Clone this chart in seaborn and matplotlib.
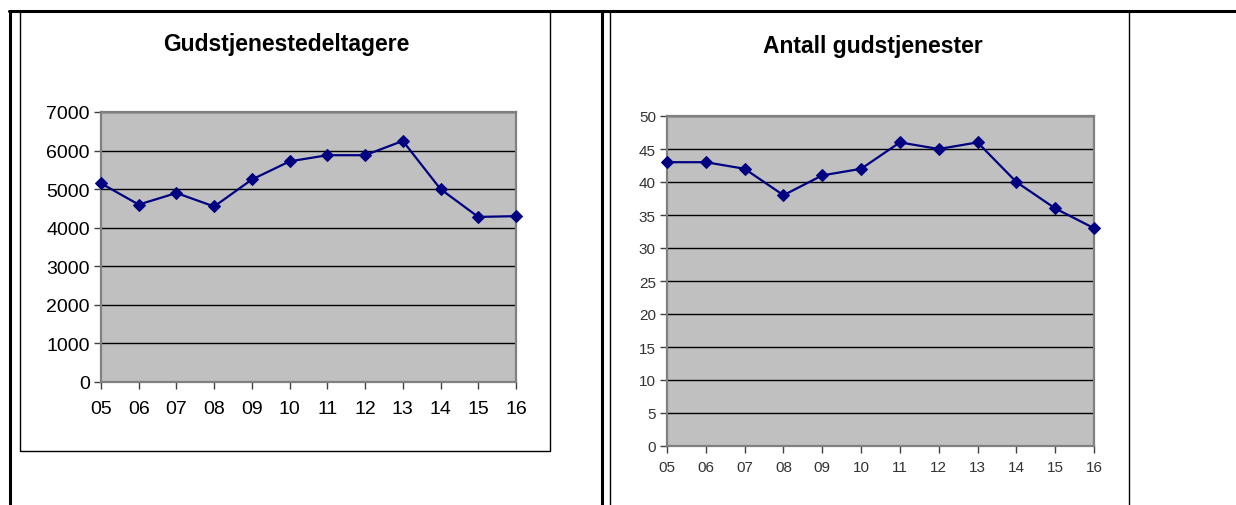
import pandas as pd
import numpy as np
import matplotlib
matplotlib.use("Agg")
import matplotlib.pyplot as plt
from matplotlib.lines import Line2D
from matplotlib.patches import Rectangle
import seaborn as sns

# data
years = ["05", "06", "07", "08", "09", "10", "11", "12", "13", "14", "15", "16"]
deltagere = [5150, 4600, 4900, 4550, 5250, 5720, 5880, 5880, 6250, 5000, 4280, 4300]
gudstjenester = [43, 43, 42, 38, 41, 42, 46, 45, 46, 40, 36, 33]

sns.set_theme(style="white")
plt.rcParams['font.family'] = ['Liberation Sans', 'DejaVu Sans']

W, H = 1236, 506
fig = plt.figure(figsize=(W / 100, H / 100), dpi=100)
fig.patch.set_facecolor("white")


def fx(x):
    return x / W


def fy(y):
    return 1 - y / H


def ax_at(x0, y0, x1, y1):
    return fig.add_axes([fx(x0), fy(y1), fx(x1 - x0), (y1 - y0) / H])


def excel_style(ax, ymax, step, fsize, color, xpad):
    ax.set_facecolor("#C0C0C0")
    ax.set_xlim(0, len(years) - 1)
    ax.set_ylim(0, ymax)
    ax.set_yticks(np.arange(0, ymax + 1, step))
    ax.set_xticks(range(len(years)))
    ax.set_xticklabels(years)
    ax.yaxis.grid(True, color="black", linewidth=1.0)
    ax.xaxis.grid(False)
    ax.set_axisbelow(True)
    for s in ax.spines.values():
        s.set_visible(True)
        s.set_color("#808080")
        s.set_linewidth(1.6)
    ax.tick_params(axis="both", direction="out", length=5, width=1,
                   color="#404040", labelsize=fsize, labelcolor=color,
                   left=True, bottom=True)
    ax.tick_params(axis="x", pad=xpad)
    ax.tick_params(axis="y", pad=3)
    ax.set_xlabel("")
    ax.set_ylabel("")
    # markers sit on the plot edge, keep them whole and above the spines
    for ln in ax.lines:
        ln.set_clip_on(False)
        ln.set_zorder(5)


df1 = pd.DataFrame({"year": years, "value": deltagere})
df2 = pd.DataFrame({"year": years, "value": gudstjenester})

# left chart
ax1 = ax_at(101, 113, 516, 383)
sns.lineplot(data=df1, x="year", y="value", sort=False, ax=ax1, color="#000080",
             linewidth=1.6, marker="D", markersize=6.5, markeredgecolor="#000080")
excel_style(ax1, 7000, 1000, 14, "black", 8)
fig.text(fx(286), fy(45), "Gudstjenestedeltagere", ha="center", va="center",
         fontsize=16.5, fontweight="bold", color="black")

# right chart
ax2 = ax_at(667, 117, 1094, 447)
sns.lineplot(data=df2, x="year", y="value", sort=False, ax=ax2, color="#000080",
             linewidth=1.6, marker="D", markersize=6.5, markeredgecolor="#000080")
excel_style(ax2, 50, 5, 11, "#333333", 5)
fig.text(fx(873), fy(47), "Antall gudstjenester", ha="center", va="center",
         fontsize=16.5, fontweight="bold", color="black")

# table frame around the charts
def hline(y, x0, x1, lw):
    fig.add_artist(Line2D([fx(x0), fx(x1)], [fy(y), fy(y)], color="black", linewidth=lw,
                          transform=fig.transFigure))


def vline(x, y0, y1, lw):
    fig.add_artist(Line2D([fx(x), fx(x)], [fy(y0), fy(y1)], color="black", linewidth=lw,
                          transform=fig.transFigure))


hline(12, 9, W, 2.2)
vline(10, 12, H, 2.2)
vline(602, 12, H, 2.2)
vline(610, 12, H, 1.0)
vline(1129, 12, H, 1.0)
# chart box of the left chart
fig.add_artist(Rectangle((fx(20), fy(452)), fx(550 - 20), (452 - 12) / H, fill=False,
                         edgecolor="black", linewidth=1.0, transform=fig.transFigure))

fig.savefig("out.png", dpi=100)
